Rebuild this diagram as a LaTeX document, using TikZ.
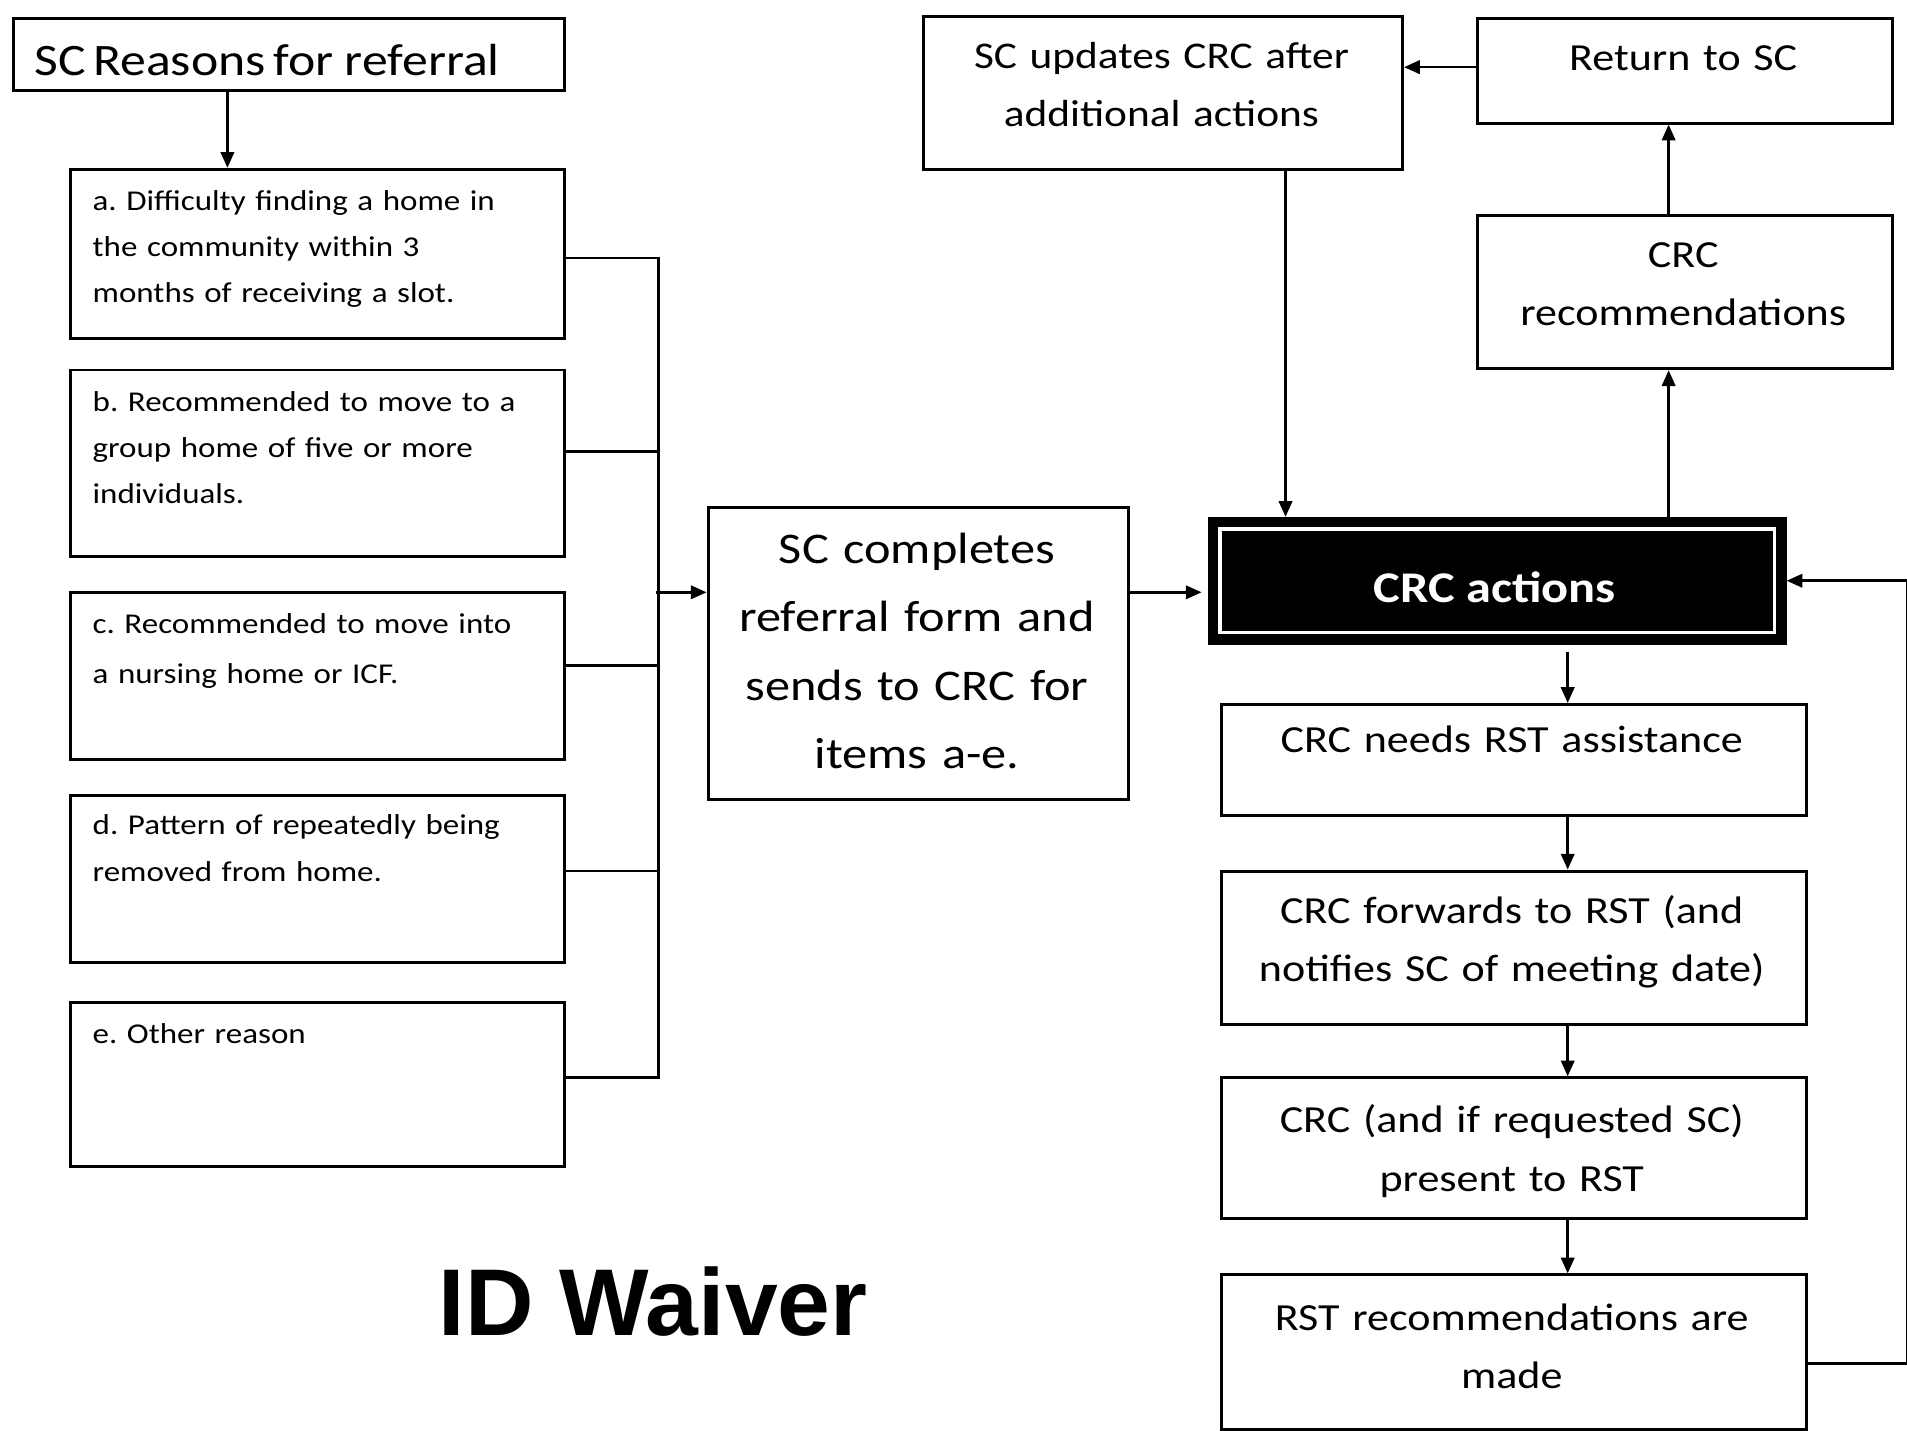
\documentclass[tikz,border=0pt]{standalone}
\usepackage{fontspec}
\setmainfont{Carlito}[FakeStretch=1.15]
\newfontfamily\arialfont{Liberation Sans}
\usetikzlibrary{arrows.meta}
\begin{document}
\frenchspacing
\begin{tikzpicture}[x=1pt,y=-1pt,
  box/.style={draw, line width=2.4pt, inner sep=0pt, anchor=north west},
  ln/.style={line width=2.2pt},
  arr/.style={line width=2.2pt, -{Triangle[length=13pt,width=11pt]}},
  ltxt/.style={anchor=base west, inner sep=0pt, text width=#1, align=left, font=\fontsize{23.6}{38}\selectfont},
  ctxt/.style={anchor=base, inner sep=0pt, text width=#1, align=center, font=\fontsize{31.5}{48}\selectfont}
]
\fill[white] (0,0) rectangle (1568,1176);
\useasboundingbox (0,0) rectangle (1568,1176);

% left column
\node[box, minimum width=453pt, minimum height=59pt] (reasons) at (10,14) {};
\node[anchor=base west, inner sep=0pt, font=\fontsize{37}{44}\selectfont] (treasons) at (28,62) {SC\,Reasons\,for referral};

\node[box, minimum width=406pt, minimum height=139pt] (boxa) at (57,138) {};
\node[ltxt=385pt] (ta) at (76,173) {a. Difficulty finding a home in\\the community within 3\\months of receiving a slot.};

\node[box, minimum width=406pt, minimum height=153pt] (boxb) at (57,303) {};
\node[ltxt=385pt] (tb) at (76,338) {b. Recommended to move to a\\group home of five or more\\individuals.};

\node[box, minimum width=406pt, minimum height=137pt] (boxc) at (57,486) {};
\node[ltxt=385pt, font=\fontsize{23.6}{41}\selectfont] (tc) at (76,521) {c. Recommended to move into\\a nursing home or ICF.};

\node[box, minimum width=406pt, minimum height=137pt] (boxd) at (57,653) {};
\node[ltxt=385pt, font=\fontsize{23.6}{39}\selectfont] (td) at (76,686) {d. Pattern of repeatedly being\\removed from home.};

\node[box, minimum width=406pt, minimum height=135pt] (boxe) at (57,823) {};
\node[ltxt=385pt] (te) at (76,858) {e. Other reason};

% middle
\node[box, minimum width=346pt, minimum height=240pt] (sccomp) at (581,416) {};
\node[ctxt=340pt, font=\fontsize{36}{56.3}\selectfont] (tsccomp) at (754,463) {SC completes\\referral form and\\sends to CRC for\\items a-e.};

\node[box, minimum width=394pt, minimum height=126pt] (updates) at (758,12) {};
\node[ctxt=390pt, font=\fontsize{31}{48}\selectfont] (tupdates) at (955,56) {SC updates CRC after\\additional actions};

% right
\node[box, minimum width=341pt, minimum height=86pt] (ret) at (1214,14) {};
\node[ctxt=335pt] (tret) at (1384,58) {Return to SC};

\node[box, minimum width=341pt, minimum height=126pt] (recs) at (1214,176) {};
\node[ctxt=335pt] (trecs) at (1384,220) {CRC\\recommendations};

\node[box, fill=black, line width=2pt, minimum width=474pt, minimum height=103pt] (crc) at (993,425) {};
\draw[white, line width=3pt] ([xshift=10pt,yshift=-10pt]crc.north west) rectangle ([xshift=-10pt,yshift=10pt]crc.south east);
\node[anchor=base, inner sep=0pt, text=white, font=\bfseries\fontsize{36}{42}\selectfont] (tcrc) at (1229,495) {CRC actions};

\node[box, minimum width=481pt, minimum height=91pt] (needs) at (1003,578) {};
\node[ctxt=475pt] (tneeds) at (1243,619) {CRC needs RST assistance};

\node[box, minimum width=481pt, minimum height=126pt] (fwd) at (1003,715) {};
\node[ctxt=475pt] (tfwd) at (1243,759) {CRC forwards to RST (and\\notifies SC of meeting date)};

\node[box, minimum width=481pt, minimum height=116pt] (pres) at (1003,885) {};
\node[ctxt=475pt, font=\fontsize{31.5}{49}\selectfont] (tpres) at (1243,931) {CRC (and if requested SC)\\present to RST};

\node[box, minimum width=481pt, minimum height=127pt] (rstrec) at (1003,1047) {};
\node[ctxt=475pt] (trstrec) at (1243,1094) {RST recommendations are\\made};

\node[anchor=base, inner sep=0pt, font=\arialfont\bfseries\fontsize{78}{90}\selectfont] (title) at (537,1098) {ID Waiver};

% connectors
\draw[arr] ([xshift=177pt]reasons.south west) -- ([xshift=130pt]boxa.north west);
\draw[ln] ([yshift=-3.5pt]boxa.east) -- ++(76,0) |- ([yshift=5.5pt]boxe.east);
\draw[ln] ([yshift=9.5pt]boxb.east) -- ++(76,0);
\draw[ln] ([yshift=8.5pt]boxc.east) -- ++(76,0);
\draw[ln] ([yshift=6.5pt]boxd.east) -- ++(76,0);
\coordinate (busin) at (539,487);
\draw[arr] (busin) -- (busin -| sccomp.west);
\draw[arr, shorten >=5pt] (busin -| sccomp.east) -- (busin -| crc.west);

\coordinate (p0) at ([xshift=299pt]updates.south west);
\draw[arr] (p0) -- (p0 |- crc.north);
\coordinate (p1) at ([xshift=379pt]crc.north west);
\draw[arr] (p1) -- (p1 |- recs.south);
\coordinate (p2) at ([xshift=158pt]recs.north west);
\draw[arr] (p2) -- (p2 |- ret.south);
\coordinate (p3) at ([yshift=3pt]ret.west);
\draw[arr] (p3) -- (p3 -| updates.east);

\coordinate (p4) at ([xshift=296pt]crc.south west);
\draw[arr, shorten <=6pt] (p4) -- (p4 |- needs.north);
\coordinate (p5) at ([xshift=286pt]needs.south west);
\draw[arr] (p5) -- (p5 |- fwd.north);
\coordinate (p6) at ([xshift=286pt]fwd.south west);
\draw[arr] (p6) -- (p6 |- pres.north);
\coordinate (p7) at ([xshift=286pt]pres.south west);
\draw[arr] (p7) -- (p7 |- rstrec.north);

\coordinate (p9) at ([yshift=-9.5pt]rstrec.east);
\draw[arr] (p9) -- ++(82,0) |- (crc.east);
\end{tikzpicture}
\end{document}
